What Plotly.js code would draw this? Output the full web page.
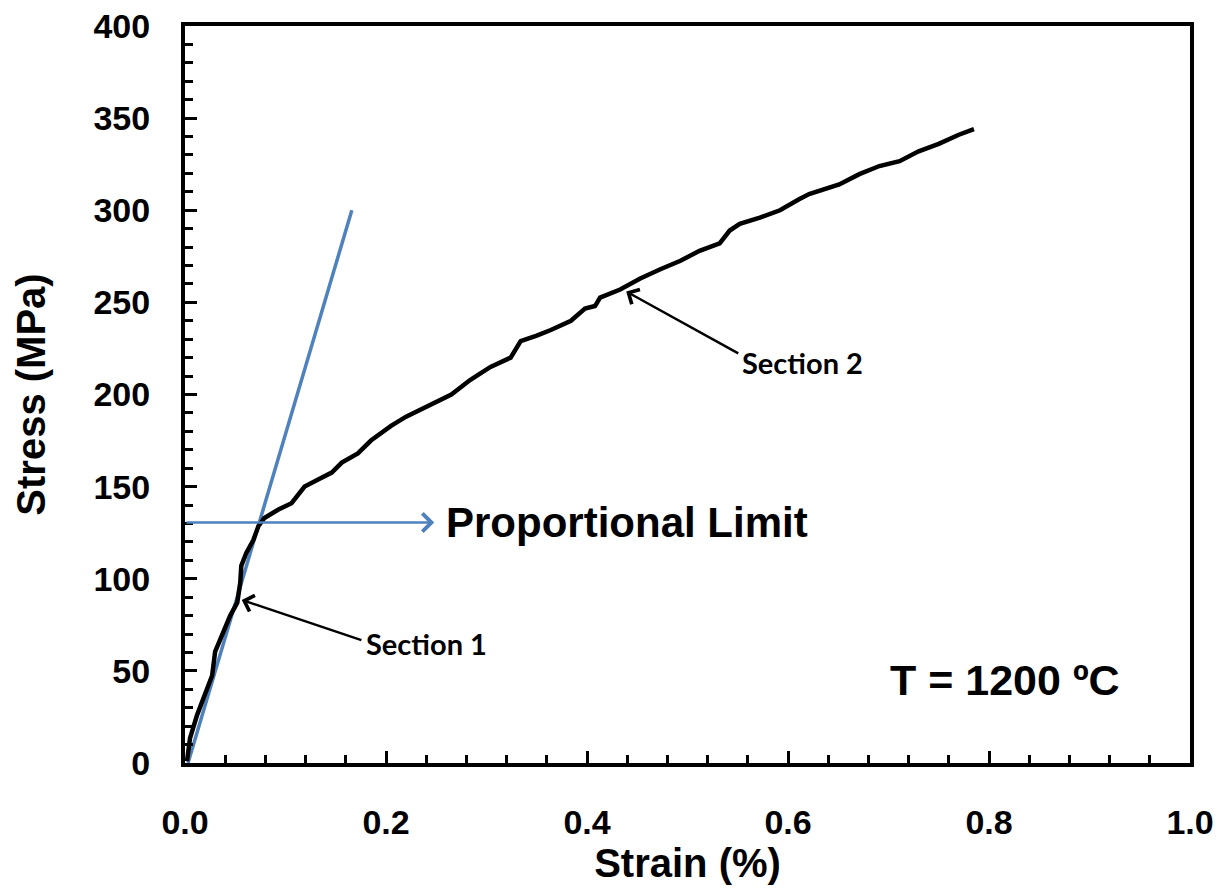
<!DOCTYPE html>
<html>
<head>
<meta charset="utf-8">
<script src="https://cdn.plot.ly/plotly-3.0.1.min.js"></script>
<style>html,body{margin:0;padding:0;background:#fff;}#chart{width:1225px;height:890px;}</style>
</head>
<body>
<div id="chart"></div>
<script>
// Stress-strain curve
const strain = [0.002,0.005,0.012,0.020,0.027,0.030,0.037,0.045,0.052,0.055,0.056,0.061,0.068,0.073,0.079,0.093,0.106,0.119,0.133,0.146,0.156,0.172,0.185,0.195,0.205,0.220,0.235,0.250,0.265,0.284,0.304,0.324,0.334,0.350,0.364,0.384,0.398,0.408,0.413,0.433,0.453,0.473,0.493,0.512,0.532,0.542,0.552,0.572,0.592,0.611,0.621,0.651,0.671,0.691,0.711,0.730,0.750,0.770,0.785];
const stress = [1,13.5,26,36.7,47.5,60.5,69,80,87,98,107,114,121,128.5,133,137.6,141,150,154,157.6,163,168,175,179,183,188,192,196,200,208,215,220,229,232,235,240,246.7,248,252.6,257,263,268,272.6,278,282,289,292.6,296,300,306,308.8,314,319.6,324,326.6,332,336,341,344];

// Linear (elastic) fit line
const fitStrain = [0.003, 0.166];
const fitStress = [0, 300];

// Proportional limit
const propLimitStress = 130.5;
const propArrowStrain = [0, 0.248];

// Annotation texts
const labelProp = "Proportional Limit";
const labelTemp = "T = 1200 ºC";
const labelSec1 = "Section 1";
const labelSec2 = "Section 2";
const sec1Tip = [0.0565, 88.5], sec1Tail = [0.177, 66.4], sec1Text = [0.178, 64.8];
const sec2Tip = [0.439, 255.9], sec2Tail = [0.552, 221.9], sec2Text = [0.552, 217.5];
const propText = [0.258, 130.6];
const tempText = [0.699, 44.8];

const xTickVals = [0, 0.2, 0.4, 0.6, 0.8, 1.0];
const xTickText = ["0.0", "0.2", "0.4", "0.6", "0.8", "1.0"];
const yTickVals = [0, 50, 100, 150, 200, 250, 300, 350, 400];

const blue = "#4F81BD";
const FONT = "Liberation Sans, Arial, sans-serif";

const traces = [
  {x: fitStrain, y: fitStress, mode: "lines", line: {color: blue, width: 3.5}, hoverinfo: "skip"},
  {x: strain, y: stress, mode: "lines", line: {color: "#000", width: 4.5}, hoverinfo: "skip"}
];

const annotations = [
  {x: propArrowStrain[1], y: propLimitStress, ax: propArrowStrain[0], ay: propLimitStress,
   xref: "x", yref: "y", axref: "x", ayref: "y", text: "", showarrow: true,
   arrowhead: 4, arrowsize: 1.4, arrowwidth: 2.5, arrowcolor: blue},
  {x: propText[0], y: propText[1], xref: "x", yref: "y", text: labelProp, showarrow: false,
   xanchor: "left", yanchor: "middle", font: {family: FONT, size: 42, color: "#000", weight: "bold"}},
  {x: tempText[0], y: tempText[1], xref: "x", yref: "y", text: labelTemp, showarrow: false,
   xanchor: "left", yanchor: "middle", font: {family: FONT, size: 43, color: "#000", weight: "bold"}},
  {x: sec1Tip[0], y: sec1Tip[1], ax: sec1Tail[0], ay: sec1Tail[1],
   xref: "x", yref: "y", axref: "x", ayref: "y", text: "", showarrow: true,
   arrowhead: 4, arrowsize: 1.3, arrowwidth: 2.5, arrowcolor: "#000"},
  {x: sec1Text[0], y: sec1Text[1], xref: "x", yref: "y", text: labelSec1, showarrow: false,
   xanchor: "left", yanchor: "middle", font: {family: "Lato, sans-serif", size: 29, color: "#000", weight: "bold"}},
  {x: sec2Tip[0], y: sec2Tip[1], ax: sec2Tail[0], ay: sec2Tail[1],
   xref: "x", yref: "y", axref: "x", ayref: "y", text: "", showarrow: true,
   arrowhead: 4, arrowsize: 1.3, arrowwidth: 2.5, arrowcolor: "#000"},
  {x: sec2Text[0], y: sec2Text[1], xref: "x", yref: "y", text: labelSec2, showarrow: false,
   xanchor: "left", yanchor: "middle", font: {family: "Lato, sans-serif", size: 29, color: "#000", weight: "bold"}}
];

const layout = {
  width: 1225, height: 890,
  margin: {l: 185, r: 35, t: 26, b: 127},
  paper_bgcolor: "#fff", plot_bgcolor: "#fff",
  showlegend: false,
  font: {family: FONT, color: "#000"},
  xaxis: {
    range: [0, 1], tickvals: xTickVals, ticktext: xTickText,
    ticks: "inside", ticklen: 12, tickwidth: 3, tickcolor: "#000",
    minor: {dtick: 0.04, tick0: 0, ticks: "inside", ticklen: 8, tickwidth: 3, tickcolor: "#000"},
    showline: true, linewidth: 4, linecolor: "#000", mirror: true,
    showgrid: false, zeroline: false,
    tickfont: {family: FONT, size: 34, color: "#000", weight: "bold"},
    ticklabelstandoff: 26,
    title: {text: "Strain (%)", font: {family: FONT, size: 40, color: "#000", weight: "bold"}, standoff: 6}
  },
  yaxis: {
    range: [0, 400], tickvals: yTickVals,
    ticks: "inside", ticklen: 12, tickwidth: 3, tickcolor: "#000",
    minor: {dtick: 10, tick0: 0, ticks: "inside", ticklen: 8, tickwidth: 3, tickcolor: "#000"},
    showline: true, linewidth: 4, linecolor: "#000", mirror: true,
    showgrid: false, zeroline: false,
    tickfont: {family: FONT, size: 34, color: "#000", weight: "bold"},
    ticklabelstandoff: 24,
    title: {text: "Stress (MPa)", font: {family: FONT, size: 40, color: "#000", weight: "bold"}, standoff: 36}
  },
  annotations: annotations
};

Plotly.newPlot("chart", traces, layout, {staticPlot: true, displayModeBar: false});
</script>
</body>
</html>
